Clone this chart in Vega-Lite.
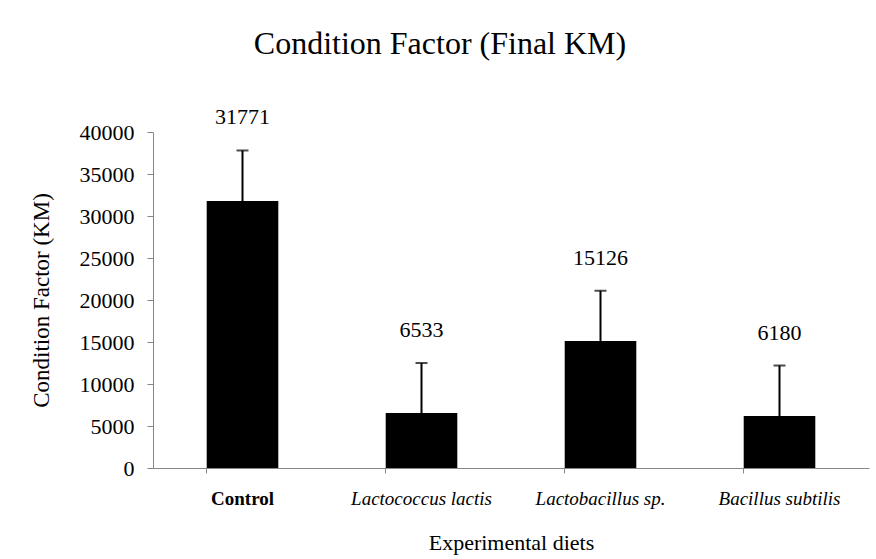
{
  "$schema": "https://vega.github.io/schema/vega-lite/v6.json",
  "autosize": "none",
  "width": 716,
  "height": 336,
  "padding": {"left": 153, "top": 132, "right": 7, "bottom": 91},
  "background": "white",
  "config": {
    "font": "Liberation Serif",
    "view": {"stroke": null}
  },
  "title": {
    "text": "Condition Factor (Final KM)",
    "font": "Liberation Serif",
    "fontSize": 32,
    "fontWeight": "normal",
    "color": "black",
    "anchor": "middle",
    "dx": -71,
    "offset": 45
  },
  "data": {
    "values": [
      {"diet": "Control", "value": 31771, "upper": 37800},
      {"diet": "Lactococcus lactis", "value": 6533, "upper": 12500},
      {"diet": "Lactobacillus sp.", "value": 15126, "upper": 21100},
      {"diet": "Bacillus subtilis", "value": 6180, "upper": 12200}
    ]
  },
  "encoding": {
    "x": {
      "field": "diet",
      "type": "nominal",
      "sort": null,
      "scale": {"paddingInner": 0.6, "paddingOuter": 0.3},
      "axis": {
        "title": "Experimental diets",
        "titleFont": "Liberation Serif",
        "titleFontSize": 22,
        "titleFontWeight": "normal",
        "titleColor": "black",
        "titlePadding": 24,
        "labelAngle": 0,
        "labelFont": "Liberation Serif",
        "labelFontSize": 19,
        "labelColor": "black",
        "labelPadding": 16,
        "labelFontStyle": {"condition": {"test": "datum.value == 'Control'", "value": "normal"}, "value": "italic"},
        "labelFontWeight": {"condition": {"test": "datum.value == 'Control'", "value": "bold"}, "value": "normal"},
        "domainColor": "#878787",
        "tickColor": "#878787",
        "tickSize": 5,
        "bandPosition": 0
      }
    }
  },
  "layer": [
    {
      "mark": {"type": "bar", "color": "black"},
      "encoding": {
        "y": {
          "field": "value",
          "type": "quantitative",
          "scale": {"domain": [0, 40000], "nice": false},
          "axis": {
            "title": "Condition Factor (KM)",
            "titleFont": "Liberation Serif",
            "titleFontSize": 23,
            "titleFontWeight": "normal",
            "titleColor": "black",
            "titlePadding": 26,
            "values": [0, 5000, 10000, 15000, 20000, 25000, 30000, 35000, 40000],
            "format": "d",
            "labelFont": "Liberation Serif",
            "labelFontSize": 22,
            "labelColor": "black",
            "labelPadding": 13,
            "grid": false,
            "domainColor": "#878787",
            "tickColor": "#878787",
            "tickSize": 6
          }
        }
      }
    },
    {
      "mark": {"type": "rule", "color": "black", "strokeWidth": 2},
      "encoding": {
        "y": {"field": "value", "type": "quantitative"},
        "y2": {"field": "upper"}
      }
    },
    {
      "mark": {"type": "tick", "color": "black", "thickness": 2, "size": 12},
      "encoding": {
        "y": {"field": "upper", "type": "quantitative"}
      }
    },
    {
      "mark": {"type": "text", "font": "Liberation Serif", "fontSize": 22, "color": "black", "baseline": "alphabetic", "dy": -26},
      "encoding": {
        "y": {"field": "upper", "type": "quantitative"},
        "text": {"field": "value", "type": "quantitative", "format": "d"}
      }
    }
  ]
}
